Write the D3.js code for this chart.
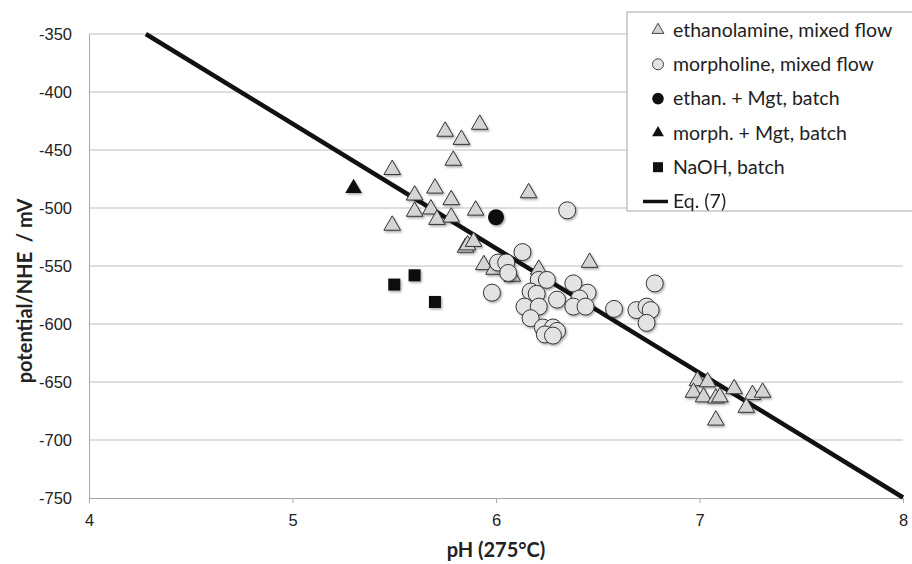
<!DOCTYPE html>
<html>
<head>
<meta charset="utf-8">
<script src="https://cdn.jsdelivr.net/npm/d3@7/dist/d3.min.js"></script>
<style>
  body { margin: 0; background: #fff; }
  svg { font-family: Lato, "Open Sans", sans-serif; }
</style>
</head>
<body>
<svg id="chart" width="912" height="564"></svg>
<script>
// pH (275°C), potential/NHE in mV
const ethanolamine = [
  [5.49, -467], [5.49, -515], [5.60, -489], [5.60, -503], [5.68, -501],
  [5.70, -483], [5.71, -510], [5.78, -493], [5.78, -508], [5.75, -434],
  [5.83, -441], [5.92, -428], [5.79, -459], [5.90, -502], [6.16, -487],
  [5.85, -534], [5.86, -532], [5.89, -529], [5.94, -549], [5.99, -553],
  [6.08, -559], [6.21, -553], [6.46, -547],
  [6.99, -649], [7.04, -650], [6.97, -659], [7.02, -663], [7.08, -664],
  [7.10, -663], [7.17, -656], [7.26, -661], [7.31, -659], [7.23, -672],
  [7.08, -683]
];
const morpholine = [
  [6.35, -502], [6.13, -538], [6.01, -547], [6.05, -547], [6.06, -556],
  [5.98, -573], [6.21, -562], [6.25, -562], [6.17, -572], [6.20, -574],
  [6.30, -579], [6.14, -585], [6.21, -585], [6.17, -595], [6.23, -603],
  [6.28, -603], [6.30, -606], [6.24, -609], [6.28, -610], [6.38, -565],
  [6.45, -573], [6.41, -578], [6.38, -585], [6.44, -585], [6.58, -587],
  [6.69, -588], [6.74, -585], [6.76, -588], [6.74, -599], [6.78, -565]
];
const ethanMgt = [[6.00, -508]];
const morphMgt = [[5.30, -483]];
const naoh = [[5.50, -566], [5.60, -558], [5.70, -581]];

// Eq. (7): E = eqIntercept + eqSlope * pH
const eqIntercept = 109.6;
const eqSlope = -107.4;

const xTicks = [4, 5, 6, 7, 8];
const yTicks = [-350, -400, -450, -500, -550, -600, -650, -700, -750];

const legendLabels = [
  "ethanolamine, mixed flow",
  "morpholine, mixed flow",
  "ethan. + Mgt, batch",
  "morph. + Mgt, batch",
  "NaOH, batch",
  "Eq. (7)"
];

const svg = d3.select("#chart");
const plotL = 89, plotR = 903, plotT = 34, plotB = 498;

const x = d3.scaleLinear().domain([4, 8]).range([plotL, plotR]);
const y = d3.scaleLinear().domain([-750, -350]).range([plotB, plotT]);

const defs = svg.append("defs");
const sh = defs.append("filter").attr("id", "shadow")
  .attr("x", "-50%").attr("y", "-50%").attr("width", "200%").attr("height", "200%");
sh.append("feDropShadow").attr("dx", 1.2).attr("dy", 1.5)
  .attr("stdDeviation", 1).attr("flood-color", "#000").attr("flood-opacity", 0.35);

// gridlines
svg.append("g").selectAll("line").data(yTicks.filter(t => t !== -750))
  .join("line")
  .attr("x1", plotL).attr("x2", plotR)
  .attr("y1", d => y(d)).attr("y2", d => y(d))
  .attr("stroke", "#bdbdbd").attr("stroke-width", 1);

// x axis
const xAxis = svg.append("g").attr("transform", `translate(0,${plotB})`)
  .call(d3.axisBottom(x).tickValues(xTicks).tickFormat(d => String(d)).tickSize(5).tickSizeOuter(0));
xAxis.select(".domain").attr("stroke", "#a6a6a6");
xAxis.selectAll(".tick line").attr("stroke", "#a6a6a6");
xAxis.selectAll(".tick text").attr("font-size", 16.5).attr("fill", "#222").attr("dy", "1.2em");

// y axis
const yAxis = svg.append("g").attr("transform", `translate(${plotL},0)`)
  .call(d3.axisLeft(y).tickValues(yTicks).tickFormat(d => String(d)).tickSize(0).tickSizeOuter(0).tickPadding(17));
yAxis.select(".domain").attr("stroke", "#a6a6a6");
yAxis.selectAll(".tick text").attr("font-size", 16.5).attr("fill", "#222");

// axis titles
svg.append("text")
  .attr("x", (plotL + plotR) / 2).attr("y", 550).attr("dy", "0.35em")
  .attr("text-anchor", "middle")
  .attr("font-size", 20).attr("font-weight", "bold").attr("fill", "#222")
  .text("pH (275°C)");

svg.append("text")
  .attr("transform", "translate(25,291) rotate(-90)")
  .attr("text-anchor", "middle").attr("dy", "0.35em")
  .attr("font-size", 20).attr("font-weight", "bold").attr("fill", "#222")
  .attr("xml:space", "preserve")
  .text("potential/NHE  / mV");

// Eq. (7) line, clipped to plot
const pTop = (-350 - eqIntercept) / eqSlope;
const pBot = Math.min(8, (-750 - eqIntercept) / eqSlope);
const lineData = [[pTop, -350], [pBot, eqIntercept + eqSlope * pBot]];
svg.append("path")
  .datum(lineData)
  .attr("d", d3.line().x(d => x(d[0])).y(d => y(d[1])))
  .attr("stroke", "#111").attr("stroke-width", 4.5).attr("fill", "none");

const tri = d3.symbol().type(d3.symbolTriangle);

// ethanolamine triangles
svg.append("g").attr("filter", "url(#shadow)")
  .selectAll("path").data(ethanolamine).join("path")
  .attr("d", tri.size(120)())
  .attr("transform", d => `translate(${x(d[0])},${y(d[1])})`)
  .attr("fill", "#d4d4d4").attr("stroke", "#333").attr("stroke-width", 1);

// morpholine circles
svg.append("g").attr("filter", "url(#shadow)")
  .selectAll("circle").data(morpholine).join("circle")
  .attr("cx", d => x(d[0])).attr("cy", d => y(d[1])).attr("r", 8.5)
  .attr("fill", "#e3e3e3").attr("stroke", "#333").attr("stroke-width", 1);

// batch series
svg.append("g").attr("filter", "url(#shadow)")
  .selectAll("circle").data(ethanMgt).join("circle")
  .attr("cx", d => x(d[0])).attr("cy", d => y(d[1])).attr("r", 8)
  .attr("fill", "#111");

svg.append("g").attr("filter", "url(#shadow)")
  .selectAll("path").data(morphMgt).join("path")
  .attr("d", tri.size(120)())
  .attr("transform", d => `translate(${x(d[0])},${y(d[1])})`)
  .attr("fill", "#111");

svg.append("g").attr("filter", "url(#shadow)")
  .selectAll("rect").data(naoh).join("rect")
  .attr("x", d => x(d[0]) - 6).attr("y", d => y(d[1]) - 6)
  .attr("width", 12).attr("height", 12)
  .attr("fill", "#111");

// legend
const lg = svg.append("g").attr("transform", "translate(627,12)");
lg.append("rect").attr("x", 0).attr("y", 0).attr("width", 300).attr("height", 199)
  .attr("fill", "#fff").attr("stroke", "#a6a6a6");

const rowY = i => 18 + i * 34.3;
legendLabels.forEach((label, i) => {
  const row = lg.append("g").attr("transform", `translate(0,${rowY(i)})`);
  if (i === 0) {
    row.append("path").attr("d", tri.size(60)()).attr("transform", "translate(31,0)")
      .attr("fill", "#d4d4d4").attr("stroke", "#444").attr("stroke-width", 1);
  } else if (i === 1) {
    row.append("circle").attr("cx", 31).attr("cy", 0).attr("r", 5.5)
      .attr("fill", "#e3e3e3").attr("stroke", "#444").attr("stroke-width", 1);
  } else if (i === 2) {
    row.append("circle").attr("cx", 31).attr("cy", 0).attr("r", 5.8).attr("fill", "#111");
  } else if (i === 3) {
    row.append("path").attr("d", tri.size(60)()).attr("transform", "translate(31,0)").attr("fill", "#111");
  } else if (i === 4) {
    row.append("rect").attr("x", 26).attr("y", -5).attr("width", 10).attr("height", 10).attr("fill", "#111");
  } else {
    row.append("line").attr("x1", 16).attr("x2", 41).attr("y1", 0).attr("y2", 0)
      .attr("stroke", "#111").attr("stroke-width", 3.5);
  }
  row.append("text").attr("x", 46).attr("y", 0).attr("dy", "0.35em")
    .attr("font-size", 19.5).attr("fill", "#222").text(label);
});
</script>
</body>
</html>
